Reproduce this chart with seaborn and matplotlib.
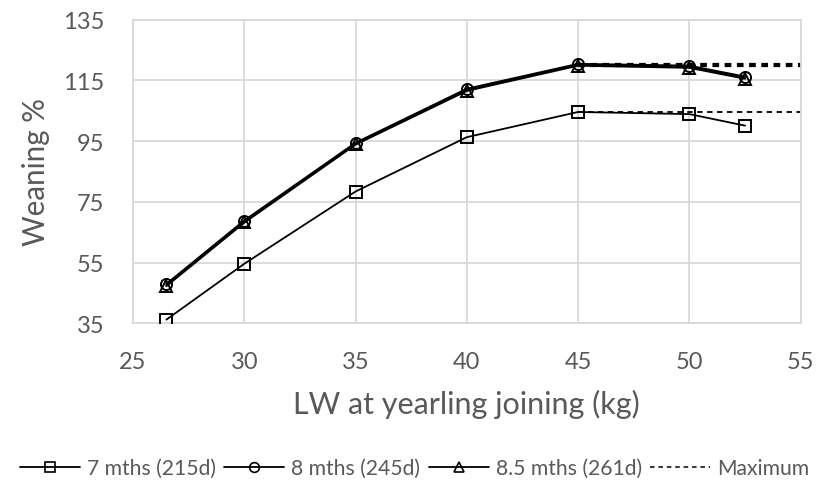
import matplotlib
matplotlib.use("Agg")
import matplotlib.pyplot as plt
from matplotlib.lines import Line2D
import seaborn as sns
import pandas as pd

# Live weight at yearling joining (kg)
lw = [26.5, 30, 35, 40, 45, 50, 52.5]

# Weaning % for each weaning age
wean_7 = [36.2, 54.6, 78.4, 96.3, 104.6, 103.9, 100.1]
wean_8 = [47.9, 68.8, 94.4, 112.2, 120.4, 119.8, 116.2]
wean_85 = [47.3, 68.2, 93.9, 111.6, 119.9, 119.2, 115.6]

series_names = ["7 mths (215d)", "8 mths (245d)", "8.5 mths (261d)"]
series_values = [wean_7, wean_8, wean_85]
series_markers = ["s", "o", "^"]
series_widths = [1.3, 1.6, 1.6]

# Maximum reached by each series, carried out from the peak
max_x = [45, 55]
max_levels = [max(v) for v in series_values]

sns.set_theme(style="white")
plt.rcParams["font.family"] = ["Lato", "DejaVu Sans"]
text_col = "#595959"
grid_col = "#d9d9d9"

fig = plt.figure(figsize=(8.29, 4.81), dpi=100)
ax = fig.add_axes([0.1604, 0.3258, 0.8054, 0.6312])

df = pd.DataFrame({"lw": lw})
for name, vals, mk, w in zip(series_names, series_values, series_markers, series_widths):
    df[name] = vals
    sns.lineplot(data=df, x="lw", y=name, ax=ax, color="black", linewidth=w,
                 marker=mk, markersize=8, markerfacecolor="none",
                 markeredgecolor="black", markeredgewidth=1.4, zorder=3)

for lvl, w in zip(max_levels, series_widths):
    sns.lineplot(x=max_x, y=[lvl, lvl], ax=ax, color="black", linewidth=w,
                 linestyle=(0, (3, 2.5)), zorder=2)

ax.set_xlim(25, 55)
ax.set_ylim(35, 135)
ax.set_xticks(range(25, 56, 5))
ax.set_yticks(range(35, 136, 20))
ax.grid(True, color=grid_col, linewidth=1.3)
for s in ax.spines.values():
    s.set_color(grid_col)
    s.set_linewidth(1.3)
ax.tick_params(axis="both", length=0, labelsize=17, labelcolor=text_col)
ax.tick_params(axis="x", pad=20)
ax.tick_params(axis="y", pad=20.5)

ax.set_xlabel("LW at yearling joining (kg)", fontsize=22, color=text_col)
ax.xaxis.set_label_coords(0.5, -0.215)
ax.set_ylabel("Weaning %", fontsize=21.3, color=text_col)
ax.yaxis.set_label_coords(-0.124, 0.5)

handles = [Line2D([], [], color="black", linewidth=1.3, marker=mk, markersize=7,
                  markerfacecolor="none", markeredgewidth=1.2)
           for mk in series_markers]
handles.append(Line2D([], [], color="black", linewidth=1.1, linestyle=(0, (3, 2.5))))
fig.legend(handles, series_names + ["Maximum"], loc="center",
           bbox_to_anchor=(0.5, 12 / 481), ncol=4, frameon=False, fontsize=15.2,
           labelcolor=text_col, handlelength=2.84, handletextpad=0.33,
           columnspacing=0.4, borderpad=0, borderaxespad=0)

fig.savefig("out.png", dpi=100)
